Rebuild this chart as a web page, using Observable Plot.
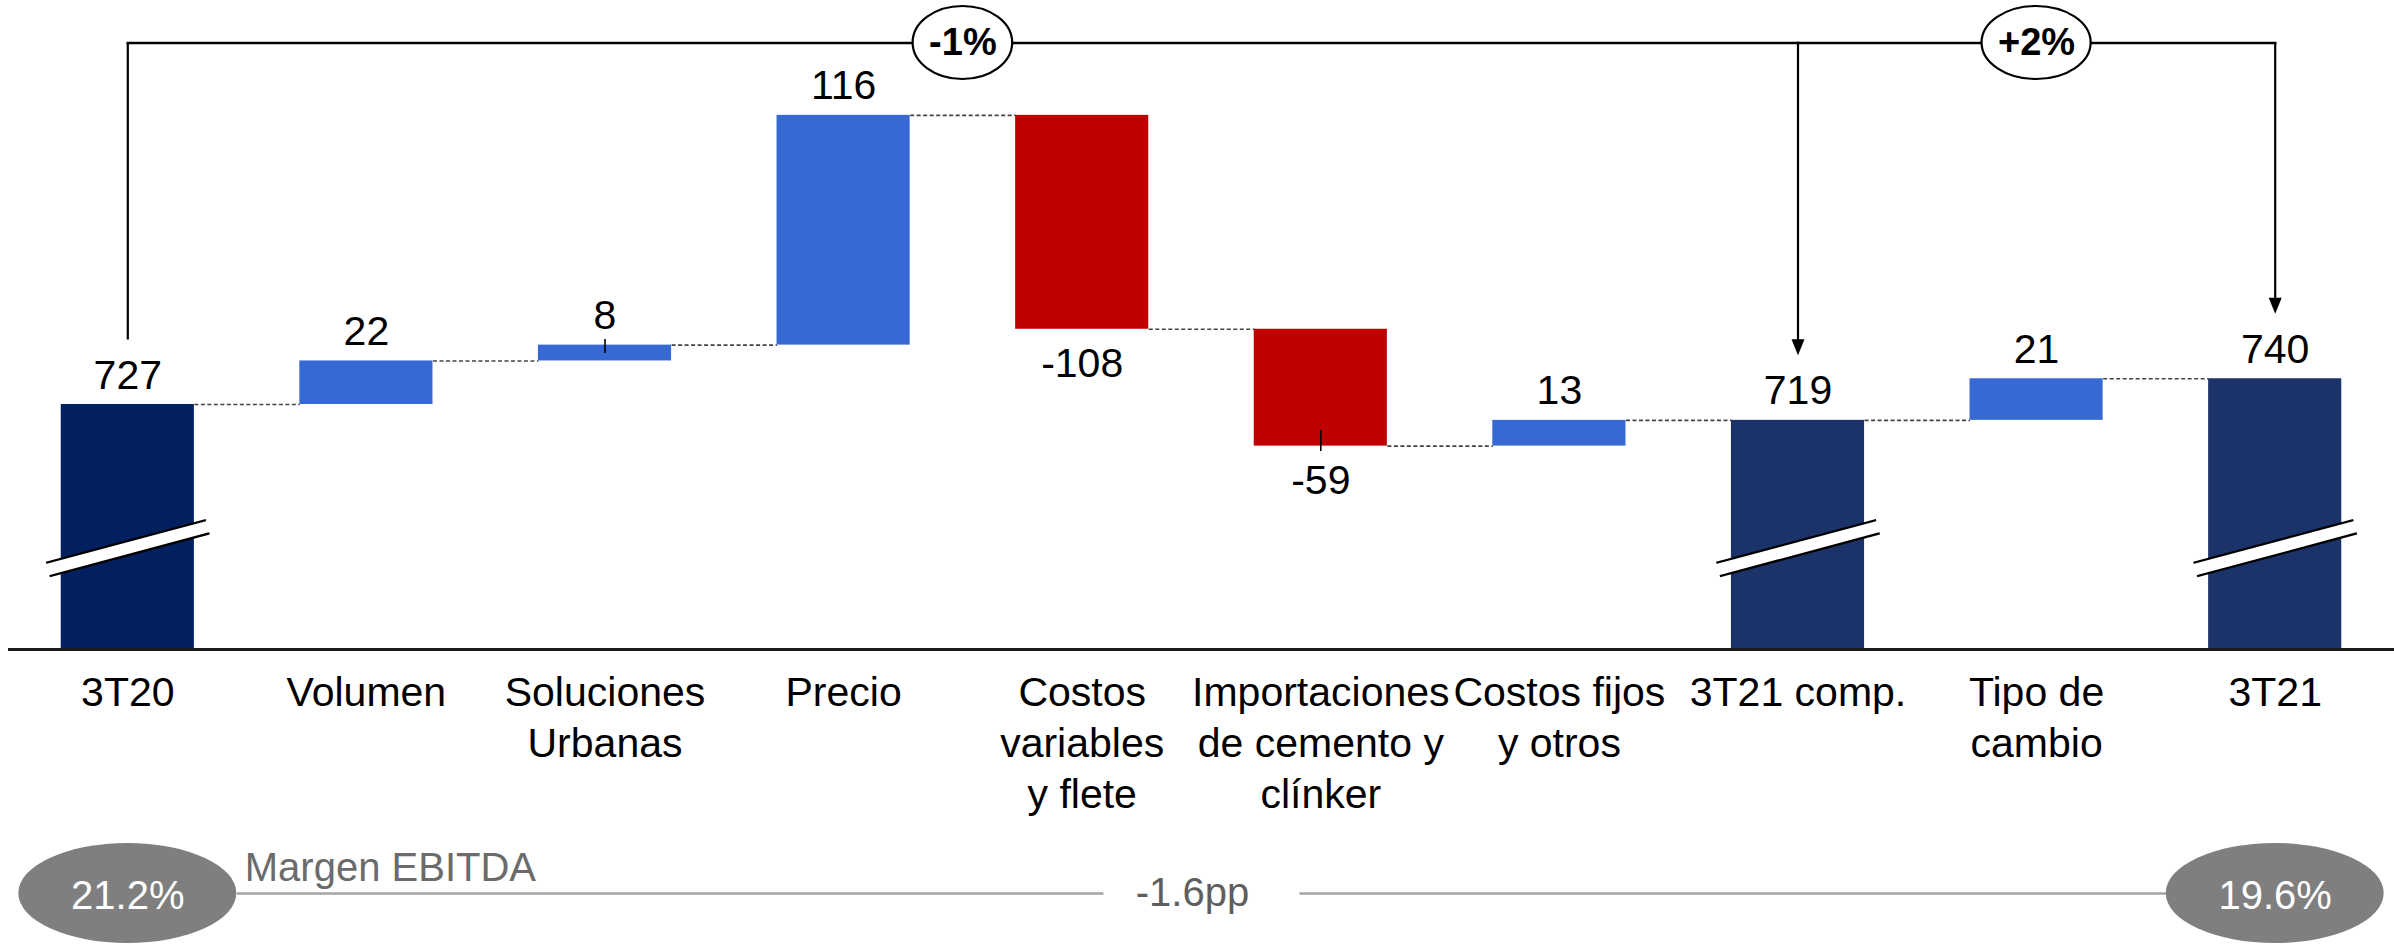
<!DOCTYPE html>
<html>
<head>
<meta charset="utf-8">
<script src="https://cdn.jsdelivr.net/npm/d3@7"></script>
<script src="https://cdn.jsdelivr.net/npm/@observablehq/plot@0.6"></script>
<style>
  html, body { margin: 0; padding: 0; background: #ffffff; }
  #chart svg { display: block; }
</style>
</head>
<body>
<div id="chart"></div>
<script>
// ---------------- DATA ----------------
const categories = [
  "3T20", "Volumen", "Soluciones\nUrbanas", "Precio", "Costos\nvariables\ny flete",
  "Importaciones\nde cemento y\nclínker", "Costos fijos\ny otros", "3T21 comp.", "Tipo de\ncambio", "3T21"
];
const values = [727, 22, 8, 116, -108, -59, 13, 719, 21, 740];
const kinds = ["total", "delta", "delta", "delta", "delta", "delta", "delta", "total", "delta", "total"];
const valueLabels = ["727", "22", "8", "116", "-108", "-59", "13", "719", "21", "740"];

const growthFrom = [0, 7];
const growthTo = [7, 9];
const growthLabels = ["-1%", "+2%"];

const marginTitle = "Margen EBITDA";
const marginIdx = [0, 9];
const marginLabels = ["21.2%", "19.6%"];
const marginChange = "-1.6pp";

const leaderIdx = [2, 5];   // bars whose value label has a small leader tick

// ---------------- LAYOUT / STYLE ----------------
const W = 2394, H1 = 830, H2 = 944 - H1;
const mL = 8, mR = 0, mB = H1 - 649;
const yMin = 603.3, yMax = 931.0;               // broken value axis
const XPX = (W - mL - mR) / categories.length;   // px per category
const YPX = (H1 - mB) / (yMax - yMin);           // px per value unit
const HW = 0.279;                                // bar half width (category units)
const FONT = "Liberation Sans, Arial, Helvetica, sans-serif";
const FS = 41;
const navy0 = "#02205f", navy1 = "#1b3368", blue = "#3769d4", red = "#c00000";

// ---------------- DERIVED ----------------
let running = 0;
const bars = values.map((v, i) => {
  let y1, y2;
  if (kinds[i] === "total") { y1 = yMin; y2 = v; running = v; }
  else { y1 = running; y2 = running + v; running += v; }
  return {i, v, kind: kinds[i], y1, y2, end: running, label: valueLabels[i],
          hi: Math.max(y1, y2), lo: Math.min(y1, y2)};
});
const fillOf = d => d.kind === "total" ? (d.i === 0 ? navy0 : navy1) : (d.v >= 0 ? blue : red);
const totals = bars.filter(d => d.kind === "total");
const pos = bars.filter(d => d.kind === "total" || d.v >= 0);
const neg = bars.filter(d => d.kind !== "total" && d.v < 0);

const bracketY = yMax - 42.5 / YPX;
const arrowGap = 65 / YPX;
const breakY = 654.5, breakDY = 10.8;

const ends = Array.from(new Set([...growthFrom, ...growthTo])).map(i => ({
  i, tip: values[i] + arrowGap, arrow: growthTo.includes(i)
}));
const growth = growthLabels.map((t, k) => ({
  t, from: growthFrom[k], to: growthTo[k], mid: (growthFrom[k] + growthTo[k]) / 2
}));

// measure growth labels to size the ellipses
const cv = document.createElement("canvas").getContext("2d");
cv.font = `bold 38px ${FONT}`;

const arrowHead = {
  draw(ctx) { ctx.moveTo(-6.5, -16); ctx.lineTo(6.5, -16); ctx.lineTo(0, 0); ctx.closePath(); }
};

const leaders = leaderIdx.map(i => {
  const b = bars[i];
  return b.v >= 0
    ? {i, y1: b.hi + 6 / YPX, y2: b.hi - 8 / YPX}
    : {i, y1: b.lo + 16 / YPX, y2: b.lo - 5 / YPX};
});

const growthMarks = growth.flatMap(g => {
  const hw = cv.measureText(g.t).width / 2 + 16;
  return [
    Plot.rect([g], {
      x1: d => d.mid - hw / XPX, x2: d => d.mid + hw / XPX,
      y1: bracketY - 36.5 / YPX, y2: bracketY + 36.5 / YPX,
      rx: hw, ry: 36.5, fill: "white", stroke: "black", strokeWidth: 2.2
    }),
    Plot.text([g], {x: "mid", y: bracketY, text: "t", fontWeight: "bold", fontSize: 38,
      lineAnchor: "middle", textAnchor: "middle", fill: "black"})
  ];
});

// ---------------- TOP PLOT ----------------
const mainChart = Plot.plot({
  width: W, height: H1,
  marginLeft: mL, marginRight: mR, marginTop: 0, marginBottom: mB,
  style: {fontFamily: FONT, fontSize: FS + "px", background: "white", color: "black"},
  x: {type: "linear", domain: [-0.5, categories.length - 0.5], axis: null},
  y: {domain: [yMin, yMax], axis: null},
  marks: [
    // connectors
    Plot.link(bars.slice(0, -1), {
      x1: d => d.i + HW, x2: d => d.i + 1 - HW, y1: "end", y2: "end",
      stroke: "#444444", strokeWidth: 1.6, strokeDasharray: "4,2.5"
    }),
    // bars
    Plot.rect(bars, {x1: d => d.i - HW, x2: d => d.i + HW, y1: "y1", y2: "y2", fill: fillOf}),
    // axis breaks
    Plot.link(totals, {x1: d => d.i - 0.335, x2: d => d.i + 0.335, y1: breakY - breakDY, y2: breakY + breakDY,
      stroke: "black", strokeWidth: 16}),
    Plot.link(totals, {x1: d => d.i - 0.345, x2: d => d.i + 0.345, y1: breakY - breakDY * 1.03, y2: breakY + breakDY * 1.03,
      stroke: "white", strokeWidth: 11.5}),
    // leaders
    Plot.link(leaders, {x1: "i", x2: "i", y1: "y1", y2: "y2", stroke: "black", strokeWidth: 1.6}),
    // value labels
    Plot.text(pos, {x: "i", y: "hi", text: "label", lineAnchor: "bottom", dy: -16, fontSize: FS, fill: "black"}),
    Plot.text(neg, {x: "i", y: "lo", text: "label", lineAnchor: "top", dy: 19, fontSize: FS, fill: "black"}),
    // baseline
    Plot.ruleY([yMin], {stroke: "#1a1a1a", strokeWidth: 3}),
    // category axis
    Plot.axisX(d3.range(categories.length), {
      tickFormat: i => categories[i], tickSize: 0, tickPadding: 20,
      fontSize: FS, lineHeight: 1.25, label: null, fill: "black"
    }),
    // brackets
    Plot.link(growth, {x1: "from", x2: "to", y1: bracketY, y2: bracketY, stroke: "black", strokeWidth: 2.6, strokeLinecap: "square"}),
    Plot.link(ends, {x1: "i", x2: "i", y1: bracketY, y2: d => d.arrow ? d.tip + 8 / YPX : d.tip,
      stroke: "black", strokeWidth: 2.2}),
    Plot.dot(ends.filter(d => d.arrow), {x: "i", y: "tip", symbol: arrowHead, r: 5, fill: "black", stroke: "none"}),
    ...growthMarks
  ]
});

// ---------------- BOTTOM PLOT (EBITDA margin) ----------------
const EHW = 109; // ellipse half width px
const margins = marginIdx.map((i, k) => ({i, t: marginLabels[k]}));
const midM = (marginIdx[0] + marginIdx[1]) / 2;
const gapHalf = 98 / XPX;
const segs = [
  {a: marginIdx[0] + EHW / XPX, b: midM - gapHalf},
  {a: midM + gapHalf, b: marginIdx[1] - EHW / XPX}
];

const marginChart = Plot.plot({
  width: W, height: H2,
  marginLeft: mL, marginRight: mR, marginTop: 13, marginBottom: 1,
  style: {fontFamily: FONT, fontSize: FS + "px", background: "white"},
  x: {type: "linear", domain: [-0.5, categories.length - 0.5], axis: null},
  y: {domain: [-1, 1], axis: null},
  marks: [
    Plot.link(segs, {x1: "a", x2: "b", y1: 0, y2: 0, stroke: "#a3a3a3", strokeWidth: 2.5}),
    Plot.rect(margins, {x1: d => d.i - EHW / XPX, x2: d => d.i + EHW / XPX, y1: -1, y2: 1,
      rx: EHW, ry: 50, fill: "#7f7f7f"}),
    Plot.text(margins, {x: "i", y: 0, text: "t", fill: "white", fontSize: 40, lineAnchor: "middle", dy: 3}),
    Plot.text([marginTitle], {x: marginIdx[0] + (EHW + 8) / XPX, y: 0, text: d => d, textAnchor: "start",
      lineAnchor: "bottom", dy: -13, fill: "#6b6b6b", fontSize: 40}),
    Plot.text([marginChange], {x: midM - 9 / XPX, y: 0, text: d => d, textAnchor: "middle",
      lineAnchor: "middle", fill: "#5e5e5e", fontSize: 40})
  ]
});

document.getElementById("chart").append(mainChart, marginChart);
</script>
</body>
</html>
